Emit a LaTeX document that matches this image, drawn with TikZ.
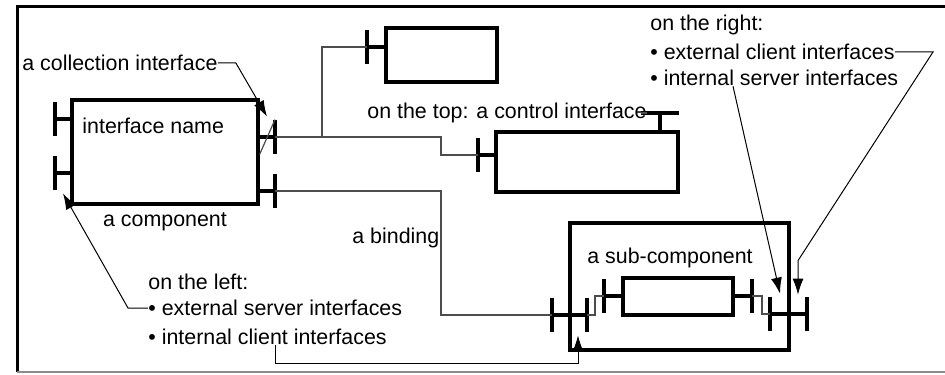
\documentclass[tikz,border=0pt]{standalone}
\usepackage{fontspec}
\setmainfont{Liberation Sans}
\usetikzlibrary{arrows.meta, positioning}
\begin{document}
\begin{tikzpicture}[x=0.5pt, y=-0.5pt,
  box/.style={rectangle, draw, line width=1.6pt, inner sep=0pt},
  bar/.style={rectangle, fill=black, inner sep=0pt, minimum width=1.7pt, minimum height=17pt},
  hbar/.style={rectangle, fill=black, inner sep=0pt, minimum width=19pt, minimum height=1.7pt},
  stub/.style={line width=1.6pt},
  wire/.style={draw=black!70, line width=0.6pt},
  lbl/.style={inner sep=0pt, font=\fontsize{10.7}{13}\selectfont},
  arr/.style={-{Latex[length=8pt, width=5.5pt]}, draw=black, line width=0.5pt}]
\useasboundingbox (0,0) rectangle (945,374);
\draw[line width=1.5pt] (945,7) -- (17,7) -- (17,372);
\draw[black!45, line width=1pt] (17,372) -- (945,372);

\node[box, minimum width=93pt, minimum height=52pt] (comp) at (165,152) {};
\node[box, minimum width=55.5pt, minimum height=27pt] (srvA) at (441.5,55) {};
\node[box, minimum width=91pt, minimum height=30pt] (srvB) at (587,162) {};
\node[box, minimum width=109.5pt, minimum height=63.5pt] (composite) at (679.5,286.5) {};
\node[box, minimum width=55pt, minimum height=18.5pt] (sub) at (678,296.5) {};

\node[bar] (cl1) at (55,119) {};
\node[bar] (cl2) at (55,173) {};
\node[bar] (cr1) at (275,137) {};
\node[bar] (cr2) at (275,191) {};
\node[bar] (ia) at (367,47) {};
\node[bar] (ib) at (478,155) {};
\node[hbar] (ctl) at (660,113) {};
\node[bar] (extL) at (552,315) {};
\node[bar] (intL) at (587,315) {};
\node[bar] (subL) at (604,296) {};
\node[bar] (subR) at (752,296) {};
\node[bar] (intR) at (770,314) {};
\node[bar] (extR) at (807,314) {};

\draw[stub] (cl1.center) -- (comp.west |- cl1);
\draw[stub] (cl2.center) -- (comp.west |- cl2);
\draw[stub] (cr1.center) -- (comp.east |- cr1);
\draw[stub] (cr2.center) -- (comp.east |- cr2);
\draw[stub] (ia.center) -- (srvA.west |- ia);
\draw[stub] (ib.center) -- (srvB.west |- ib);
\draw[stub] (ctl.center) -- (ctl |- srvB.north);
\draw[stub] (extL.center) -- (intL.center);
\draw[stub] (intR.center) -- (extR.center);
\draw[stub] (subL.center) -- (sub.west |- subL);
\draw[stub] (subR.center) -- (sub.east |- subR);
\draw[wire] (comp.east |- cr1.south) -- (cr1.north);

\draw[wire] (cr1.center) -- ++(47,0) |- (ia.center);
\draw[wire] (cr1.center) -- ++(166,0) |- (ib.center);
\draw[wire] (cr2.center) -- ++(166,0) |- (extL.center);
\draw[wire] (intL.center) -- ++(8,0) |- (subL.center);
\draw[wire] (subR.center) -- ++(10,0) |- (intR.center);

\node[lbl, anchor=west] (collbl) at (22,63) {a collection interface};
\node[lbl, anchor=west] (namelbl) at (82,126) {interface name};
\node[lbl] (complbl) at (165,222) {a component};
\node[lbl, anchor=west] (bindlbl) at (352,238) {a binding};
\node[lbl] (sublbl) at (670,258) {a sub-component};
\node[lbl, anchor=west] (toplbl) at (367,113) {on the top: a control interface};
\node[lbl, anchor=west] (left1) at (148,282) {on the left:};
\node[lbl, anchor=west] (left2) at (148,308) {• external server interfaces};
\node[lbl, anchor=west] (left3) at (148,337) {• internal client interfaces};
\node[lbl, anchor=west] (right1) at (650,25) {on the right:};
\node[lbl, anchor=west] (right2) at (650,52) {• external client interfaces};
\node[lbl, anchor=west] (right3) at (650,78) {• internal server interfaces};

\draw[wire] (toplbl.east) -- (ctl.west);
\draw[arr] (collbl.east) -- ++(18,0) -- ([xshift=-4pt, yshift=1.5pt]cr1.north);
\draw[arr] (left2.west) -- ++(-20,0) -- ([xshift=4pt, yshift=-1.5pt]cl2.south);
\draw[arr] ([xshift=63.5pt]left3.south west) -- ++(0,18) -| ([xshift=-4.5pt, yshift=-1.5pt]intL.south);
\draw[arr] (right2.east) -- ++(38,0) -- ([xshift=-4.5pt, yshift=18pt]extR.north) -- ([xshift=-4.5pt, yshift=1pt]extR.north);
\draw[arr] ([xshift=41.5pt]right3.south west) -- ([xshift=5pt, yshift=1.5pt]intR.north);
\end{tikzpicture}
\end{document}
